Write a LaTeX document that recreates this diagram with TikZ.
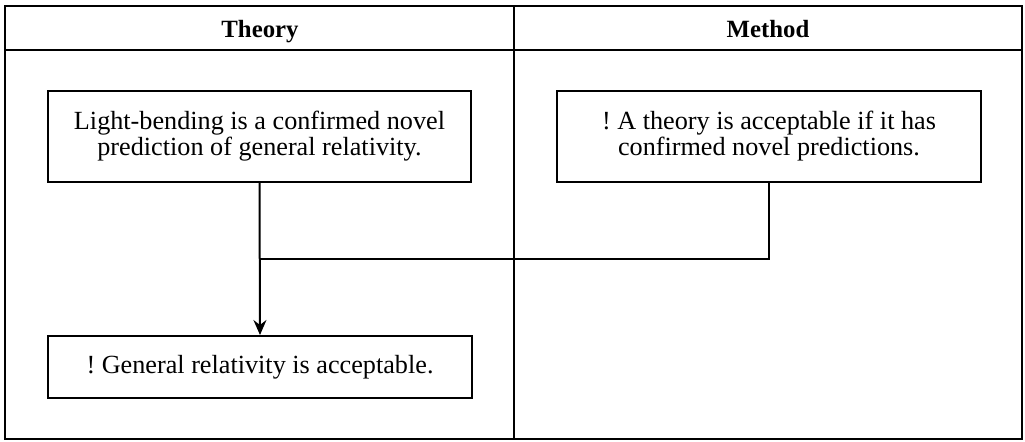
\documentclass[tikz,border=0pt]{standalone}
\usepackage{fontspec}
\setmainfont{Liberation Serif}
\usetikzlibrary{arrows.meta}

\tikzset{
    claim/.style={draw, line width=1pt, rectangle, align=center,
        font=\fontsize{13.1}{13}\selectfont},
    header/.style={anchor=base, font=\fontsize{12.4}{14}\selectfont\bfseries},
    link/.style={line width=1pt},
    arrowlink/.style={line width=1pt, -{Stealth[length=7.5pt, width=6.5pt, inset=2.5pt]}}
}

\begin{document}
\begin{tikzpicture}[x=0.5pt, y=-0.5pt]
    \useasboundingbox (0,0) rectangle (1025,441);

    % Draw the table frame with its two columns
    \draw[line width=1pt] (5,6) rectangle (1022,439);
    \draw[line width=1pt] (5,50) -- (1022,50);
    \draw[line width=1.4pt] (514,6) -- (514,439);

    % Column headers
    \node[header] (theory) at (260,37) {Theory};
    \node[header] (method) at (768,37) {Method};

    % The claims
    \node[claim, minimum width=211.5pt, minimum height=45.5pt] (light) at (259.5,136.5)
        {Light-bending is a confirmed novel\\prediction of general relativity.};
    \node[claim, minimum width=212pt, minimum height=45.5pt] (novel) at (769,136.5)
        {!\ A theory is acceptable if it has\\confirmed novel predictions.};
    \node[claim, minimum width=212pt, minimum height=31pt] (accept) at (260,367)
        {!\ General relativity is acceptable.};

    % Connect the claims
    \coordinate (join) at (260,259);
    \draw[arrowlink] (light.south) -- (accept.north);
    \draw[link] (novel.south) -- (novel.south |- join) -- (join);
\end{tikzpicture}
\end{document}
